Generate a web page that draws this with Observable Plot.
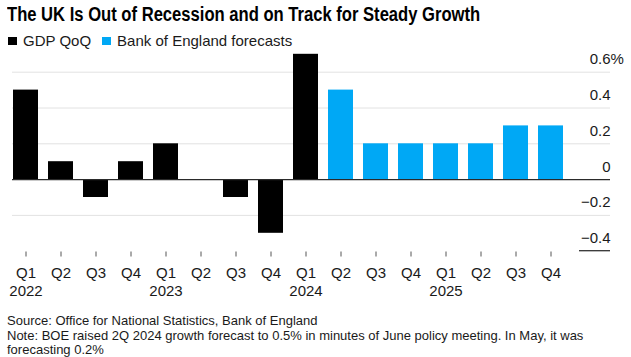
<!DOCTYPE html>
<html>
<head>
<meta charset="utf-8">
<script src="https://cdn.jsdelivr.net/npm/d3@7"></script>
<script src="https://cdn.jsdelivr.net/npm/@observablehq/plot@0.6"></script>
<style>
  html, body { margin: 0; padding: 0; background: #fff; }
  body { width: 631px; height: 357px; position: relative; overflow: hidden; font-family: "Liberation Sans", Arial, sans-serif; color: #1a1a1a; }
  #title { position: absolute; left: 7px; top: 2px; font-family: "Liberation Sans", Arial, sans-serif; font-weight: bold; font-size: 20px; line-height: 24px; white-space: nowrap; color: #000; transform: scaleX(0.83); transform-origin: 0 0; }
  #legend { position: absolute; left: 8px; top: 32px; height: 18px; display: flex; align-items: center; font-size: 15px; line-height: 18px; white-space: nowrap; }
  #legend .sw { display: inline-block; width: 8.5px; height: 8.5px; margin-right: 6.5px; }
  #legend .item { display: flex; align-items: center; margin-right: 11px; }
  #chart { position: absolute; left: 0; top: 50px; }
  #caption { position: absolute; left: 7px; top: 314px; font-size: 13px; line-height: 14.5px; white-space: nowrap; color: #1a1a1a; }
</style>
</head>
<body>
<div id="title"></div>
<div id="legend"></div>
<div id="chart"></div>
<div id="caption"></div>
<script>
// ---- data ----
const quarters = ["Q1","Q2","Q3","Q4","Q1","Q2","Q3","Q4","Q1","Q2","Q3","Q4","Q1","Q2","Q3","Q4"];
const years    = ["2022","2022","2022","2022","2023","2023","2023","2023","2024","2024","2024","2024","2025","2025","2025","2025"];
const gdpQoQ       = [0.5, 0.1, -0.1, 0.1, 0.2, 0.0, -0.1, -0.3, 0.7, null, null, null, null, null, null, null];
const boeForecasts = [null, null, null, null, null, null, null, null, null, 0.5, 0.2, 0.2, 0.2, 0.2, 0.3, 0.3];
const yTicks = [-0.4, -0.2, 0, 0.2, 0.4, 0.6];
const seriesNames = ["GDP QoQ", "Bank of England forecasts"];
const seriesColors = ["#000000", "#00a8f5"];
const titleText = "The UK Is Out of Recession and on Track for Steady Growth";
const captionLines = [
  "Source: Office for National Statistics, Bank of England",
  "Note: BOE raised 2Q 2024 growth forecast to 0.5% in minutes of June policy meeting. In May, it was",
  "forecasting 0.2%"
];

// ---- build rows ----
const periods = quarters.map((q, i) => years[i] + " " + q);
const rows = [];
periods.forEach((p, i) => {
  if (gdpQoQ[i] != null) rows.push({period: p, value: gdpQoQ[i], series: seriesNames[0]});
  if (boeForecasts[i] != null) rows.push({period: p, value: boeForecasts[i], series: seriesNames[1]});
});

// ---- header / caption ----
document.getElementById("title").textContent = titleText;
const legend = document.getElementById("legend");
seriesNames.forEach((n, i) => {
  const item = document.createElement("span");
  item.className = "item";
  const sw = document.createElement("span");
  sw.className = "sw";
  sw.style.background = seriesColors[i];
  item.appendChild(sw);
  item.appendChild(document.createTextNode(n));
  legend.appendChild(item);
});
const cap = document.getElementById("caption");
captionLines.forEach((l, i) => {
  if (i) cap.appendChild(document.createElement("br"));
  cap.appendChild(document.createTextNode(l));
});

// ---- chart ----
const W = 631, H = 250;
const mTop = 21.7, mBottom = H - 200.7, mLeft = 12, mRight = 21;
const step = 35.2;
const x0 = 24 - step / 2;

const bottomLine = (index, scales, values, dims) => {
  const y = scales.y(yTicks[0]);
  const xr = dims.width - dims.marginRight;
  const l = document.createElementNS("http://www.w3.org/2000/svg", "line");
  l.setAttribute("x1", xr - 31);
  l.setAttribute("x2", xr);
  l.setAttribute("y1", y);
  l.setAttribute("y2", y);
  l.setAttribute("stroke", "#333");
  l.setAttribute("stroke-width", 1.3);
  return l;
};

const chart = Plot.plot({
  width: W,
  height: H,
  marginTop: mTop,
  marginBottom: mBottom,
  marginLeft: mLeft,
  marginRight: mRight,
  style: {fontFamily: '"Liberation Sans", Arial, sans-serif', fontSize: "15px", color: "#1a1a1a", background: "transparent"},
  x: {type: "band", domain: periods, range: [x0, x0 + step * periods.length], paddingInner: 0.3, paddingOuter: 0.15, align: 0.5, axis: null, label: null},
  y: {domain: [yTicks[0], yTicks[yTicks.length - 1]], axis: null, label: null},
  color: {domain: seriesNames, range: seriesColors},
  marks: [
    Plot.ruleY(yTicks.filter(t => t !== 0 && t !== yTicks[0]), {stroke: "#e2e2e2", strokeWidth: 1}),
    Plot.barY(rows, {x: "period", y: "value", fill: "series"}),
    Plot.ruleY([0], {stroke: "#2a2a2a", strokeWidth: 1.2}),
    bottomLine,
    Plot.axisX({tickSize: 5, tickFormat: () => "", label: null, stroke: "#555", dy: 0.8}),
    Plot.text(periods, {
      x: d => d,
      frameAnchor: "bottom",
      lineAnchor: "top",
      lineHeight: 1.173,
      dy: 14.7,
      text: (d, i) => quarters[i] === "Q1" ? quarters[i] + "\n" + years[i] : quarters[i],
      fill: "#1a1a1a"
    }),
    Plot.text(yTicks, {
      y: d => d,
      frameAnchor: "right",
      textAnchor: "end",
      dy: -12.8,
      text: d => d === 0 ? "0" : d3.format(".1f")(d),
      fill: "#1a1a1a"
    }),
    Plot.text([yTicks[yTicks.length - 1]], {
      y: d => d,
      frameAnchor: "right",
      textAnchor: "start",
      dy: -12.8,
      text: () => "%",
      fill: "#1a1a1a"
    })
  ]
});
document.getElementById("chart").appendChild(chart);
</script>
</body>
</html>
